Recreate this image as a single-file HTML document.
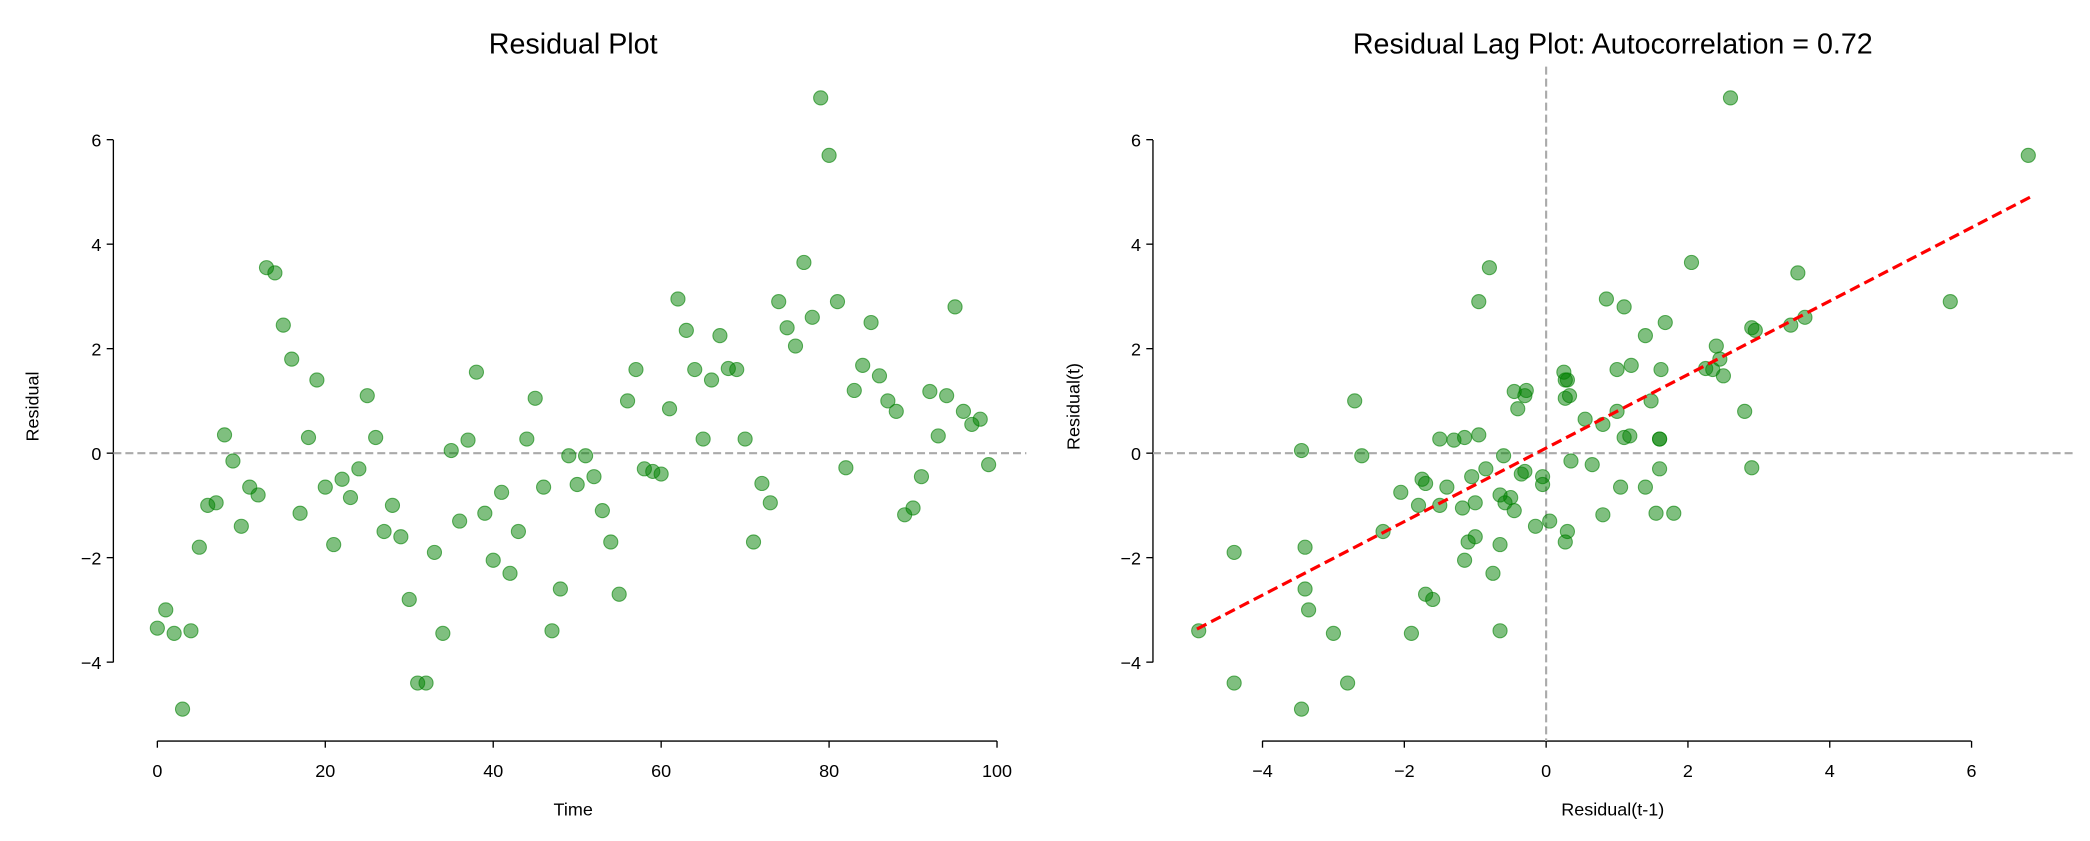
<!DOCTYPE html>
<html><head><meta charset="utf-8"><style>
html,body{margin:0;padding:0;background:#fff;}
svg{display:block;}
text{font-family:"Liberation Sans","DejaVu Sans",sans-serif;fill:#000;}
</style></head><body>
<svg id="s" width="2090" height="841" viewBox="0 0 1568 631" xmlns="http://www.w3.org/2000/svg">
<rect width="1568" height="631" fill="#fff"/>
<text x="430" y="40" font-size="21.5" text-anchor="middle">Residual Plot</text>
<text x="1210" y="40" font-size="21.5" text-anchor="middle">Residual Lag Plot: Autocorrelation = 0.72</text>
<g stroke="#000" stroke-width="1" fill="none">
<line x1="85" y1="105" x2="85" y2="497"/>
<line x1="118" y1="556" x2="748" y2="556"/>
<line x1="865" y1="105" x2="865" y2="497"/>
<line x1="947" y1="556" x2="1479" y2="556"/>
</g>
<g stroke="#aaa" stroke-width="1.6" stroke-dasharray="6,3" fill="none">
<line x1="85" y1="340" x2="770" y2="340"/>
<line x1="865" y1="340" x2="1555" y2="340"/>
<line x1="1160" y1="50" x2="1160" y2="556"/>
</g>
<g id="ticks" stroke="#000" stroke-width="1"></g>
<g id="labels" font-size="13.5"></g>
<g id="pts" fill="#008000" fill-opacity="0.5" stroke="#008000" stroke-opacity="0.6" stroke-width="0.8"></g>
<line x1="898" y1="472" x2="1523" y2="148" stroke="#f00" stroke-width="2.4" stroke-dasharray="8,4"/>
<text x="430" y="612" font-size="13.5" text-anchor="middle">Time</text>
<text x="1210" y="612" font-size="13.5" text-anchor="middle">Residual(t-1)</text>
<text transform="translate(29,305) rotate(-90)" font-size="13.5" text-anchor="middle">Residual</text>
<text transform="translate(810,305) rotate(-90)" font-size="13.5" text-anchor="middle">Residual(t)</text>
</svg>
<script>
var r=[-3.35,-3.0,-3.45,-4.9,-3.4,-1.8,-1.0,-0.95,0.35,-0.15,-1.4,-0.65,-0.8,3.55,3.45,2.45,1.8,-1.15,0.3,1.4,-0.65,-1.75,-0.5,-0.85,-0.3,1.1,0.3,-1.5,-1.0,-1.6,-2.8,-4.4,-4.4,-1.9,-3.45,0.05,-1.3,0.25,1.55,-1.15,-2.05,-0.75,-2.3,-1.5,0.27,1.05,-0.65,-3.4,-2.6,-0.05,-0.6,-0.05,-0.45,-1.1,-1.7,-2.7,1.0,1.6,-0.3,-0.35,-0.4,0.85,2.95,2.35,1.6,0.27,1.4,2.25,1.62,1.6,0.27,-1.7,-0.58,-0.95,2.9,2.4,2.05,3.65,2.6,6.8,5.7,2.9,-0.28,1.2,1.68,2.5,1.48,1.0,0.8,-1.18,-1.05,-0.45,1.18,0.33,1.1,2.8,0.8,0.55,0.65,-0.22];
var NS="http://www.w3.org/2000/svg";
function el(p,t,a,txt){var e=document.createElementNS(NS,t);for(var k in a)e.setAttribute(k,a[k]);if(txt!=null)e.textContent=txt;document.getElementById(p).appendChild(e);}
function Y(v){return 340-v*39.2;}
function XL(t){return 118+t*6.3;}
function XR(v){return 1160+v*53.2;}
function m(v){return v<0?"\u2212"+(-v):""+v;}
for(var i=0;i<100;i++)el("pts","circle",{cx:XL(i),cy:Y(r[i]),r:5.3});
for(var i=1;i<100;i++)el("pts","circle",{cx:XR(r[i-1]),cy:Y(r[i]),r:5.3});
[-4,-2,0,2,4,6].forEach(function(v){
 el("ticks","line",{x1:80,y1:Y(v),x2:85,y2:Y(v)});
 el("ticks","line",{x1:860,y1:Y(v),x2:865,y2:Y(v)});
 el("labels","text",{x:76,y:Y(v)+5,"text-anchor":"end"},m(v));
 el("labels","text",{x:856,y:Y(v)+5,"text-anchor":"end"},m(v));
 el("ticks","line",{x1:XR(v),y1:556,x2:XR(v),y2:561});
 el("labels","text",{x:XR(v),y:583,"text-anchor":"middle"},m(v));
});
[0,20,40,60,80,100].forEach(function(v){
 el("ticks","line",{x1:XL(v),y1:556,x2:XL(v),y2:561});
 el("labels","text",{x:XL(v),y:583,"text-anchor":"middle"},""+v);
});
</script>
</body></html>
